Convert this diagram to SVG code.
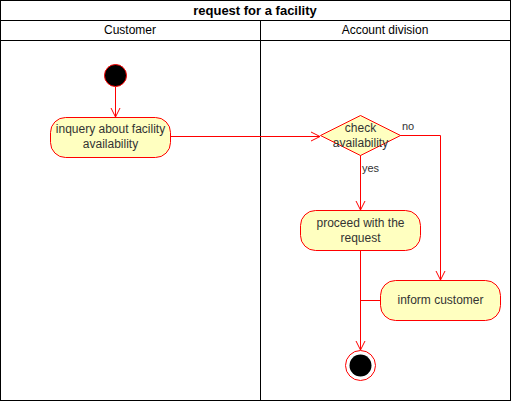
<svg xmlns="http://www.w3.org/2000/svg" width="511" height="401" viewBox="0 0 511 401">
<style>
text{font-family:"Liberation Sans",Arial,sans-serif;fill:#000}
.t{font-size:13px;font-weight:bold}
.h{font-size:12px}
.n{font-size:12px;fill:#333}
.act{fill:#ffffc0;stroke:#ff0000;stroke-width:1}
.c{fill:none;stroke:#ff0000;stroke-width:1}
.frame{fill:#fff;stroke:#000;stroke-width:1}
</style>
<defs>
<marker id="open" markerWidth="12" markerHeight="12" refX="10" refY="6" orient="auto" markerUnits="userSpaceOnUse">
<path d="M1,1.5 L10,6 L1,10.5" fill="none" stroke="#ff0000" stroke-width="1"/>
</marker>
</defs>
<rect width="511" height="401" fill="#fff"/>
<g id="pool">
<rect class="frame" x="0.5" y="0.5" width="510" height="400"/>
<line x1="0.5" y1="20.5" x2="510.5" y2="20.5" stroke="#000"/>
<line x1="0.5" y1="40.5" x2="510.5" y2="40.5" stroke="#000"/>
<line x1="260.5" y1="20.5" x2="260.5" y2="400.5" stroke="#000"/>
<text class="t" x="255" y="15" text-anchor="middle">request for a facility</text>
<text class="h" x="130" y="34" text-anchor="middle">Customer</text>
<text class="h" x="385" y="34" text-anchor="middle">Account division</text>
</g>
<g id="connectors">
<line class="c" x1="115.5" y1="87" x2="115.5" y2="117" marker-end="url(#open)"/>
<line class="c" x1="170" y1="136.5" x2="320" y2="136.5" marker-end="url(#open)"/>
<polyline class="c" points="400,135.5 440.5,135.5 440.5,280" marker-end="url(#open)"/>
<line class="c" x1="360.5" y1="155" x2="360.5" y2="210" marker-end="url(#open)"/>
<line class="c" x1="360.5" y1="250" x2="360.5" y2="350" marker-end="url(#open)"/>
<line class="c" x1="380" y1="300.5" x2="360.5" y2="300.5"/>
<text class="n" x="402" y="130" style="font-size:11px">no</text>
<text class="n" x="362" y="172" style="font-size:11px">yes</text>
</g>
<g id="start">
<circle cx="115.5" cy="75.5" r="11" fill="#000" stroke="#ff0000"/>
</g>
<g id="inquery">
<rect class="act" x="50.5" y="117.5" width="120" height="40" rx="15"/>
<text class="n" x="110.5" y="133" text-anchor="middle">inquery about facility</text>
<text class="n" x="110.5" y="148" text-anchor="middle">availability</text>
</g>
<g id="check">
<polygon class="act" points="360.5,115.5 400.5,135.5 360.5,155.5 320.5,135.5"/>
<text class="n" x="360.5" y="132" text-anchor="middle">check</text>
<text class="n" x="360.5" y="147" text-anchor="middle">availability</text>
</g>
<g id="proceed">
<rect class="act" x="300.5" y="210.5" width="120" height="40" rx="15"/>
<text class="n" x="360.5" y="227" text-anchor="middle">proceed with the</text>
<text class="n" x="360.5" y="242" text-anchor="middle">request</text>
</g>
<g id="inform">
<rect class="act" x="380.5" y="280.5" width="120" height="40" rx="15"/>
<text class="n" x="440.5" y="304" text-anchor="middle">inform customer</text>
</g>
<g id="end">
<circle cx="360.5" cy="365.5" r="15" fill="#fff" stroke="#ff0000"/>
<circle cx="360.5" cy="365.5" r="11" fill="#000"/>
</g>
</svg>
